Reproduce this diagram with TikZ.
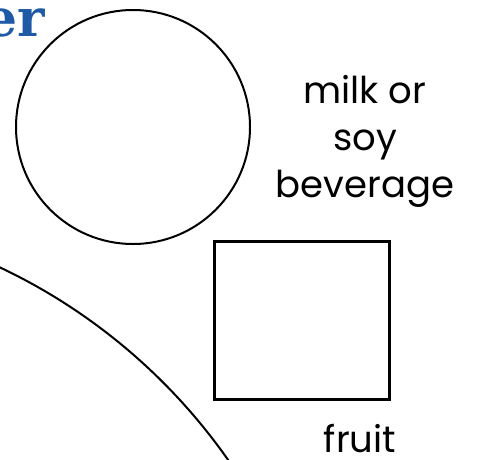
\documentclass[tikz,border=0pt]{standalone}
\usepackage{fontspec}
\setmainfont{Poppins}
\newfontfamily\headfont{DejaVu Serif}
\usetikzlibrary{calc}

\definecolor{headblue}{RGB}{31,90,166}

\begin{document}
\begin{tikzpicture}[x=1pt, y=1pt, font=\fontsize{37pt}{47pt}\selectfont]

% ==================== FRAME ====================
\useasboundingbox (0,0) rectangle (478,459);

% ==================== HEADING (cut) ====================
\node[anchor=base east, inner sep=0pt, text=headblue] (head) at (45,422)
  {\headfont\bfseries\fontsize{52pt}{56pt}\selectfont er};

% ==================== PLATE ====================
% Large plate edge, centre far outside the page
\coordinate (P) at (-248,-334);
\draw[line width=2pt] (P) circle (581);

% ==================== MILK CUP ====================
\coordinate (M) at (133,332);
\draw[line width=2pt] (M) circle (117);
\node[align=center, inner sep=0pt] (milk) at (365,318) {milk or\\soy\\beverage};

% ==================== FRUIT ====================
\draw[line width=3pt] (214,218) rectangle (389,60);
\node[anchor=base, inner sep=0pt] (fruit) at (360,7) {fruit};

\end{tikzpicture}
\end{document}
